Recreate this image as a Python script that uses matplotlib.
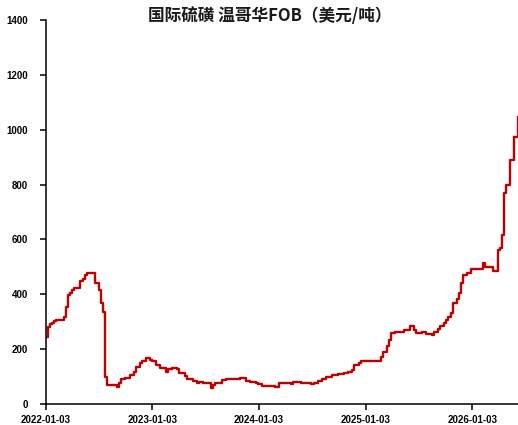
import matplotlib
matplotlib.use("Agg")
import matplotlib.pyplot as plt
import pandas as pd

plt.rcParams['font.family'] = ['Noto Sans CJK SC', 'DejaVu Sans']

title = "国际硫磺 温哥华FOB（美元/吨）"

# Weekly price change points (USD/t); each value holds until the next date
dates = [
    "2022-01-03", "2022-01-10", "2022-01-17", "2022-01-24", "2022-01-31", "2022-02-07",
    "2022-03-07", "2022-03-14", "2022-03-21", "2022-03-28", "2022-04-04", "2022-04-11",
    "2022-05-02", "2022-05-09", "2022-05-16", "2022-05-23", "2022-06-20", "2022-06-27",
    "2022-07-04", "2022-07-11", "2022-07-18", "2022-07-25", "2022-08-01", "2022-09-05",
    "2022-09-12", "2022-09-19", "2022-10-03", "2022-10-17", "2022-10-31", "2022-11-07",
    "2022-11-21", "2022-11-28", "2022-12-12", "2022-12-26", "2023-01-02", "2023-01-16",
    "2023-01-30", "2023-02-20", "2023-02-27", "2023-03-13", "2023-03-27", "2023-04-03",
    "2023-04-24", "2023-05-01", "2023-05-22", "2023-06-05", "2023-06-12", "2023-06-26",
    "2023-07-24", "2023-07-31", "2023-08-07", "2023-08-28", "2023-09-11", "2023-10-30",
    "2023-11-20", "2023-12-04", "2023-12-25", "2024-01-01", "2024-01-15", "2024-02-26",
    "2024-03-11", "2024-04-22", "2024-04-29", "2024-05-27", "2024-07-01", "2024-07-08",
    "2024-07-22", "2024-08-05", "2024-08-19", "2024-09-09", "2024-09-30", "2024-10-21",
    "2024-11-04", "2024-11-18", "2024-11-25", "2024-12-09", "2024-12-16", "2025-02-17",
    "2025-02-24", "2025-03-03", "2025-03-17", "2025-03-24", "2025-03-31", "2025-04-14",
    "2025-05-12", "2025-06-02", "2025-06-16", "2025-06-23", "2025-07-14", "2025-07-28",
    "2025-08-18", "2025-08-25", "2025-09-08", "2025-09-15", "2025-09-29", "2025-10-06",
    "2025-10-13", "2025-10-20", "2025-10-27", "2025-11-10", "2025-11-17", "2025-11-24",
    "2025-12-01", "2025-12-15", "2025-12-29", "2026-01-26", "2026-02-09", "2026-02-16",
    "2026-03-16", "2026-03-30", "2026-04-06", "2026-04-13", "2026-04-20", "2026-04-27",
    "2026-05-11", "2026-05-25", "2026-06-08",
]
prices = [
    245, 282, 293, 296, 304, 306,
    318, 355, 397, 403, 415, 422,
    450, 455, 470, 479, 442, 440,
    415, 367, 337, 100, 69, 63,
    75, 90, 94, 106, 118, 136,
    148, 155, 167, 161, 158, 142,
    130, 118, 126, 130, 126, 112,
    102, 90, 85, 78, 80, 76,
    60, 69, 78, 87, 91, 96,
    84, 79, 76, 73, 66, 61,
    76, 73, 79, 76, 72, 78,
    85, 90, 100, 106, 108, 114,
    117, 124, 142, 151, 156, 158,
    170, 191, 211, 233, 258, 264,
    270, 284, 270, 258, 261, 255,
    252, 261, 272, 284, 296, 306,
    318, 331, 367, 383, 404, 440,
    470, 479, 491, 494, 513, 499,
    486, 561, 567, 616, 768, 798,
    890, 975, 1047,
]

tick_labels = ["2022-01-03", "2023-01-03", "2024-01-03", "2025-01-03", "2026-01-03"]
y_ticks = [0, 200, 400, 600, 800, 1000, 1200, 1400]

x = pd.to_datetime(dates)

fig = plt.figure(figsize=(5.18, 4.25), dpi=100)
ax = fig.add_axes([45.7 / 518, 21 / 425, (518 - 45.7) / 518, 384 / 425])

ax.plot(x, prices, drawstyle="steps-post", color="#C00000", linewidth=1.7)

ax.set_ylim(0, 1400)
ax.set_yticks(y_ticks)
ax.set_xlim(pd.Timestamp(dates[0]), pd.Timestamp(dates[-1]))
ax.set_xticks(pd.to_datetime(tick_labels))
ax.set_xticklabels(tick_labels)

for side in ("top", "right"):
    ax.spines[side].set_visible(False)
for side in ("left", "bottom"):
    ax.spines[side].set_linewidth(1.1)
    ax.spines[side].set_color("black")

ax.tick_params(axis="both", direction="out", length=4, width=1.1, colors="black")
ax.tick_params(axis="y", pad=9)
ax.tick_params(axis="x", pad=4)
for lab in ax.get_xticklabels() + ax.get_yticklabels():
    lab.set_family(["Liberation Sans", "DejaVu Sans"])
    lab.set_fontweight("bold")
    lab.set_fontsize(7)

fig.text(270 / 518, 1 - 16 / 425, title, ha="center", va="center",
         fontsize=12, fontweight="bold", color="#1a1a1a")

fig.savefig("out.png", dpi=100)
